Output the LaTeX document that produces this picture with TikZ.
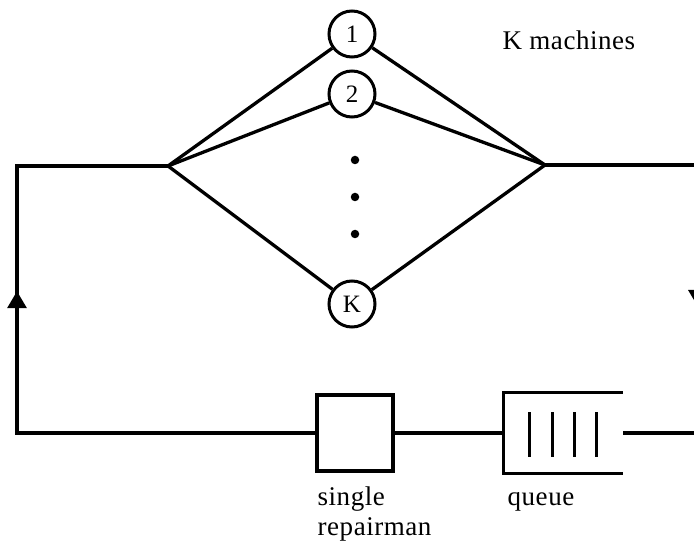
\documentclass[tikz,border=0pt]{standalone}
\usepackage{fontspec}
\setmainfont{Liberation Serif}[LetterSpace=2]
\usetikzlibrary{arrows.meta,decorations.markings}
\begin{document}
\begin{tikzpicture}[x=1pt,y=-1pt,
  line width=3.3pt,
  machine/.style={circle,draw,line width=3pt,inner sep=0pt,minimum size=46pt,
    font=\fontsize{25}{28}\selectfont},
  server/.style={rectangle,draw,line width=3.6pt,minimum size=76pt,inner sep=0pt},
  bufferbox/.style={rectangle,inner sep=0pt,minimum width=116pt,minimum height=78pt},
  dot/.style={circle,fill,inner sep=0pt,minimum size=8.5pt},
  label/.style={font=\fontsize{27}{30}\selectfont,inner sep=0pt},
  flowmark/.style={postaction={decorate},decoration={markings,
    mark=at position #1 with {\arrow{Triangle[length=17pt,width=19pt]}}}}
]
\useasboundingbox (0,0) rectangle (694,548);
\clip (0,0) rectangle (694,548);

% K parallel machines
\node[machine] (m1) at (352,34) {1};
\node[machine] (m2) at (352,94) {2};
\node[machine] (mK) at (352,304) {K};
\node[dot] (d1) at (355,160) {};
\node[dot] (d2) at (355,197) {};
\node[dot] (d3) at (355,234) {};

% fork and join points
\coordinate (jl) at (168,166);
\coordinate (jr) at (545,165);
\foreach \m in {m1,m2,mK} {
  \draw (jl) -- (\m);
  \draw (\m) -- (jr);
}

% repair station: queue followed by the repairman
\node[server] (rep) at (355,433) {};
\node[bufferbox] (q) at (563,433) {};
\draw[line width=3.6pt] (q.north east) -- (q.north west) -- (q.south west) -- (q.south east);
\foreach \bx in {529,552,574,596}
  \draw[line width=3pt] (\bx,412) -- (\bx,457);
\draw (q.west) -- (rep.east);

% return loop
\coordinate (tr) at (698,165);
\coordinate (br) at (698,433);
\coordinate (bl) at (17,433);
\coordinate (tl) at (17,166);
\draw[flowmark=295pt] (jr) -- (tr) -- (br) -- (q.east);
\draw[flowmark=440pt] (rep.west) -- (bl) -- (tl) -- (jl);

% labels
\node[label,anchor=base west] (kl) at (501,50) {K machines};
\node[label,anchor=base west,align=left] (rl) at (316,535) {single\\repairman};
\node[label,anchor=base west] (ql) at (506,505) {queue};
\end{tikzpicture}
\end{document}
